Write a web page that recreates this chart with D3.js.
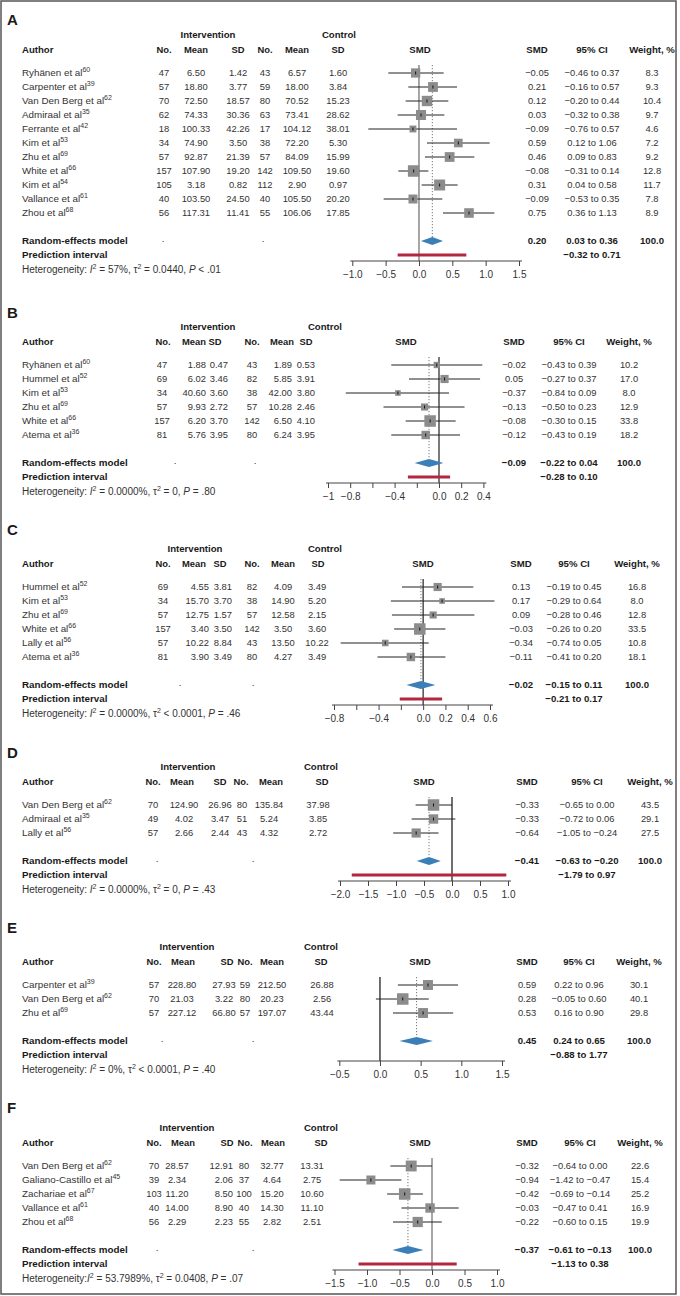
<!DOCTYPE html>
<html>
<head>
<meta charset="utf-8">
<script src="https://cdn.jsdelivr.net/npm/d3@7"></script>
<style>
  body { margin: 0; background: #fff; }
  text { font-family: "Liberation Sans", Arial, Helvetica, sans-serif; }
</style>
</head>
<body>
<script>
// study rows: author, ref, n1, mean1, sd1, n2, mean2, sd2, smd, lower, upper, weight %
var studiesA = [
  ["Ryhänen et al", 60, 47, 6.50, 1.42, 43, 6.57, 1.60, -0.05, -0.46, 0.37, 8.3],
  ["Carpenter et al", 39, 57, 18.80, 3.77, 59, 18.00, 3.84, 0.21, -0.16, 0.57, 9.3],
  ["Van Den Berg et al", 62, 70, 72.50, 18.57, 80, 70.52, 15.23, 0.12, -0.20, 0.44, 10.4],
  ["Admiraal et al", 35, 62, 74.33, 30.36, 63, 73.41, 28.62, 0.03, -0.32, 0.38, 9.7],
  ["Ferrante et al", 42, 18, 100.33, 42.26, 17, 104.12, 38.01, -0.09, -0.76, 0.57, 4.6],
  ["Kim et al", 53, 34, 74.90, 3.50, 38, 72.20, 5.30, 0.59, 0.12, 1.06, 7.2],
  ["Zhu et al", 69, 57, 92.87, 21.39, 57, 84.09, 15.99, 0.46, 0.09, 0.83, 9.2],
  ["White et al", 66, 157, 107.90, 19.20, 142, 109.50, 19.60, -0.08, -0.31, 0.14, 12.8],
  ["Kim et al", 54, 105, 3.18, 0.82, 112, 2.90, 0.97, 0.31, 0.04, 0.58, 11.7],
  ["Vallance et al", 61, 40, 103.50, 24.50, 40, 105.50, 20.20, -0.09, -0.53, 0.35, 7.8],
  ["Zhou et al", 68, 56, 117.31, 11.41, 55, 106.06, 17.85, 0.75, 0.36, 1.13, 8.9]
];
var studiesB = [
  ["Ryhänen et al", 60, 47, 1.88, 0.47, 43, 1.89, 0.53, -0.02, -0.43, 0.39, 10.2],
  ["Hummel et al", 52, 69, 6.02, 3.46, 82, 5.85, 3.91, 0.05, -0.27, 0.37, 17.0],
  ["Kim et al", 53, 34, 40.60, 3.60, 38, 42.00, 3.80, -0.37, -0.84, 0.09, 8.0],
  ["Zhu et al", 69, 57, 9.93, 2.72, 57, 10.28, 2.46, -0.13, -0.50, 0.23, 12.9],
  ["White et al", 66, 157, 6.20, 3.70, 142, 6.50, 4.10, -0.08, -0.30, 0.15, 33.8],
  ["Atema et al", 36, 81, 5.76, 3.95, 80, 6.24, 3.95, -0.12, -0.43, 0.19, 18.2]
];
var studiesC = [
  ["Hummel et al", 52, 69, 4.55, 3.81, 82, 4.09, 3.49, 0.13, -0.19, 0.45, 16.8],
  ["Kim et al", 53, 34, 15.70, 3.70, 38, 14.90, 5.20, 0.17, -0.29, 0.64, 8.0],
  ["Zhu et al", 69, 57, 12.75, 1.57, 57, 12.58, 2.15, 0.09, -0.28, 0.46, 12.8],
  ["White et al", 66, 157, 3.40, 3.50, 142, 3.50, 3.60, -0.03, -0.26, 0.20, 33.5],
  ["Lally et al", 56, 57, 10.22, 8.84, 43, 13.50, 10.22, -0.34, -0.74, 0.05, 10.8],
  ["Atema et al", 36, 81, 3.90, 3.49, 80, 4.27, 3.49, -0.11, -0.41, 0.20, 18.1]
];
var studiesD = [
  ["Van Den Berg et al", 62, 70, 124.90, 26.96, 80, 135.84, 37.98, -0.33, -0.65, 0.00, 43.5],
  ["Admiraal et al", 35, 49, 4.02, 3.47, 51, 5.24, 3.85, -0.33, -0.72, 0.06, 29.1],
  ["Lally et al", 56, 57, 2.66, 2.44, 43, 4.32, 2.72, -0.64, -1.05, -0.24, 27.5]
];
var studiesE = [
  ["Carpenter et al", 39, 57, 228.80, 27.93, 59, 212.50, 26.88, 0.59, 0.22, 0.96, 30.1],
  ["Van Den Berg et al", 62, 70, 21.03, 3.22, 80, 20.23, 2.56, 0.28, -0.05, 0.60, 40.1],
  ["Zhu et al", 69, 57, 227.12, 66.80, 57, 197.07, 43.44, 0.53, 0.16, 0.90, 29.8]
];
var studiesF = [
  ["Van Den Berg et al", 62, 70, 28.57, 12.91, 80, 32.77, 13.31, -0.32, -0.64, 0.00, 22.6],
  ["Galiano-Castillo et al", 45, 39, 2.34, 2.06, 37, 4.64, 2.75, -0.94, -1.42, -0.47, 15.4],
  ["Zachariae et al", 67, 103, 11.20, 8.50, 100, 15.20, 10.60, -0.42, -0.69, -0.14, 25.2],
  ["Vallance et al", 61, 40, 14.00, 8.90, 40, 14.30, 11.10, -0.03, -0.47, 0.41, 16.9],
  ["Zhou et al", 68, 56, 2.29, 2.23, 55, 2.82, 2.51, -0.22, -0.60, 0.15, 19.9]
];

// random-effects estimate, lower, upper, prediction lower, prediction upper
var summaryA = [0.20, 0.03, 0.36, -0.32, 0.71];
var summaryB = [-0.09, -0.22, 0.04, -0.28, 0.10];
var summaryC = [-0.02, -0.15, 0.11, -0.21, 0.17];
var summaryD = [-0.41, -0.63, -0.20, -1.79, 0.97];
var summaryE = [0.45, 0.24, 0.65, -0.88, 1.77];
var summaryF = [-0.37, -0.61, -0.13, -1.13, 0.38];

// heterogeneity: I2, tau2, P
var hetA = ["57%", "= 0.0440", "< .01"];
var hetB = ["0.0000%", "= 0", "= .80"];
var hetC = ["0.0000%", "< 0.0001", "= .46"];
var hetD = ["0.0000%", "= 0", "= .43"];
var hetE = ["0%", "< 0.0001", "= .40"];
var hetF = ["53.7989%", "= 0.0408", "= .07"];

var ticksA = [-1, -0.5, 0, 0.5, 1, 1.5];
var tickLabelsA = ["−1.0", "−0.5", "0.0", "0.5", "1.0", "1.5"];
var ticksB = [-1, -0.8, -0.6, -0.4, -0.2, 0, 0.2, 0.4];
var tickLabelsB = ["−1", "−0.8", "", "−0.4", "", "0.0", "0.2", "0.4"];
var ticksC = [-0.8, -0.6, -0.4, -0.2, 0, 0.2, 0.4, 0.6];
var tickLabelsC = ["−0.8", "", "−0.4", "", "0.0", "0.2", "0.4", "0.6"];
var ticksD = [-2, -1.5, -1, -0.5, 0, 0.5, 1];
var tickLabelsD = ["−2.0", "−1.5", "−1.0", "−0.5", "0.0", "0.5", "1.0"];
var ticksE = [-0.5, 0, 0.5, 1, 1.5];
var tickLabelsE = ["−0.5", "0.0", "0.5", "1.0", "1.5"];
var ticksF = [-1.5, -1, -0.5, 0, 0.5, 1];
var tickLabelsF = ["−1.5", "−1.0", "−0.5", "0.0", "0.5", "1.0"];

// layout per panel; a column is a centre x, or [x, anchor]
var panels = [
  {id: "A", rows: studiesA, sum: summaryA, het: hetA, ticks: ticksA, tickLabels: tickLabelsA,
   labelY: 20, row0: 73, range: [352.3, 519], zero: "#777", pi: true, smdHead: 420,
   heads: [164, 196, 238, 265, 297, 338], dots: [163, 263],
   cols: {n1: 164, m1: 196, sd1: 238, n2: 265, m2: 297, sd2: 338, interv: 208, control: 339, smd: 537, ci: 592, wt: 652}},
  {id: "B", rows: studiesB, sum: summaryB, het: hetB, ticks: ticksB, tickLabels: tickLabelsB,
   labelY: 313, row0: 365, range: [328, 483.4], zero: "#333", pi: true, smdHead: 406,
   heads: [163, 194, 215, 252, 282, 306], dots: [175, 255],
   cols: {n1: 162, m1: [206, "end"], sd1: [228, "end"], n2: 252, m2: [292, "end"], sd2: [315, "end"], interv: 208, control: 325, smd: 514, ci: 569, wt: 629}},
  {id: "C", rows: studiesC, sum: summaryC, het: hetC, ticks: ticksC, tickLabels: tickLabelsC,
   labelY: 530, row0: 587, range: [334, 490], zero: "#333", pi: true, smdHead: 423,
   heads: [163, 194, 220, 252, 283, 318], dots: [180, 253],
   cols: {n1: 163, m1: [209, "end"], sd1: [232, "end"], n2: 252, m2: 283, sd2: 317, interv: 195, control: 325, smd: 521, ci: 574, wt: 637}},
  {id: "D", rows: studiesD, sum: summaryD, het: hetD, ticks: ticksD, tickLabels: tickLabelsD,
   labelY: 753, row0: 805, range: [340, 508], zero: "#222", pi: true, smdHead: 424,
   heads: [153, 182, 220, 241, 271, 322], dots: [157, 253],
   cols: {n1: 153, m1: 184, sd1: 220, n2: 242, m2: 269, sd2: 318, interv: 188, control: 321, smd: 527, ci: 587, wt: 650}},
  {id: "E", rows: studiesE, sum: summaryE, het: hetE, ticks: ticksE, tickLabels: tickLabelsE,
   labelY: 928, row0: 985, range: [339.3, 502], zero: "#222", pi: false, smdHead: 420,
   heads: [154, 183, 227, 245, 272, 321], dots: [162, 253],
   cols: {n1: 154, m1: 182, sd1: 224, n2: 245, m2: 272, sd2: 322, interv: 187, control: 321, smd: 527, ci: 579, wt: 639}},
  {id: "F", rows: studiesF, sum: summaryF, het: hetF, ticks: ticksF, tickLabels: tickLabelsF,
   labelY: 1108, row0: 1166, range: [334.5, 497], zero: "#777", pi: true, smdHead: 420,
   heads: [154, 183, 227, 245, 273, 321], dots: [157, 253],
   cols: {n1: 154, m1: 177, sd1: [233, "end"], n2: 244, m2: 272, sd2: 312, interv: 187, control: 321, smd: 527, ci: 580, wt: 640}}
];

var width = 680, height = 1296, step = 14;
var fmt2 = d3.format(".2f"), fmt1 = d3.format(".1f");

var svg = d3.select("body").append("svg")
    .attr("width", width)
    .attr("height", height);

svg.append("rect")
    .attr("x", 1).attr("y", 1)
    .attr("width", 675).attr("height", 1293)
    .attr("fill", "none")
    .attr("stroke", "#555")
    .attr("stroke-width", 1.5);

var txt = function (g, x, y, s, anchor, bold, size) {
  return g.append("text")
      .attr("x", x).attr("y", y).attr("dy", "0.35em")
      .attr("text-anchor", anchor || "middle")
      .attr("fill", bold ? "#1a1a1a" : "#333")
      .style("font-size", (size || 9.8) + "px")
      .style("font-weight", bold ? "bold" : "normal")
      .text(s);
};

// number column text, with its own anchor if given
var cell = function (g, col, s) {
  if (Array.isArray(col)) {
    return txt(g, col[0], 0, s, col[1], false, 9.4);
  }
  return txt(g, col, 0, s, "middle", false, 9.4);
};

function drawPanel(p) {
  var g = svg.append("g").attr("class", "panel-" + p.id);
  var c = p.cols;
  var y0 = p.row0;
  var reY = y0 + (p.rows.length - 1) * step + 28;
  var piY = reY + 14, hetY = reY + 28, axisY = reY + 20;
  var x = d3.scaleLinear().domain(d3.extent(p.ticks)).range(p.range);
  var size = d3.scaleSqrt().domain([0, d3.max(p.rows, function (r) { return r[11]; })]).range([0, 11.5]);

  txt(g, 7, p.labelY, p.id, "start", true, 15);

  // headers
  txt(g, c.interv, y0 - 38, "Intervention", "middle", true, 9.6);
  txt(g, c.control, y0 - 38, "Control", "middle", true, 9.6);
  txt(g, 22, y0 - 23, "Author", "start", true, 9.6);
  ["No.", "Mean", "SD", "No.", "Mean", "SD"].forEach(function (h, i) {
    txt(g, p.heads[i], y0 - 23, h, "middle", true, 9.4);
  });
  [["SMD", p.smdHead], ["SMD", c.smd], ["95% CI", c.ci], ["Weight, %", c.wt]].forEach(function (h) {
    txt(g, h[1], y0 - 23, h[0], "middle", true, 9.6);
  });

  // reference lines behind the squares
  g.append("line")
      .attr("x1", x(0)).attr("x2", x(0))
      .attr("y1", y0 - 8).attr("y2", axisY)
      .attr("stroke", p.zero).attr("stroke-width", 1.3);
  g.append("line")
      .attr("x1", x(p.sum[0])).attr("x2", x(p.sum[0]))
      .attr("y1", y0 - 8).attr("y2", reY - 4)
      .attr("stroke", "#777").attr("stroke-width", 1)
      .attr("stroke-dasharray", "1.2,1.8");

  var rowG = g.selectAll("g.study")
    .data(p.rows)
    .enter().append("g")
      .attr("class", "study")
      .attr("transform", function (d, i) { return "translate(0," + (y0 + i * step) + ")"; });

  rowG.each(function (d) {
    var r = d3.select(this);
    var a = txt(r, 22, 0, d[0], "start");
    a.append("tspan").attr("dy", "-4").style("font-size", "7px").text(d[1]);
    cell(r, c.n1, d[2]);
    cell(r, c.m1, fmt2(d[3]));
    cell(r, c.sd1, fmt2(d[4]));
    cell(r, c.n2, d[5]);
    cell(r, c.m2, fmt2(d[6]));
    cell(r, c.sd2, fmt2(d[7]));
    cell(r, c.smd, fmt2(d[8]));
    cell(r, c.ci, fmt2(d[9]) + " to " + fmt2(d[10]));
    cell(r, c.wt, fmt1(d[11]));

    r.append("line")
        .attr("x1", x(d[9])).attr("x2", x(d[10]))
        .attr("y1", 0).attr("y2", 0)
        .attr("stroke", "#222").attr("stroke-width", 1);
    var s = size(d[11]);
    r.append("rect")
        .attr("x", x(d[8]) - s / 2).attr("y", -s / 2)
        .attr("width", s).attr("height", s)
        .attr("fill", "#8c8c8c");
    r.append("line")
        .attr("x1", x(d[8])).attr("x2", x(d[8]))
        .attr("y1", -1.5).attr("y2", 1.5)
        .attr("stroke", "#111").attr("stroke-width", 1);
  });

  // random-effects row
  txt(g, 22, reY, "Random-effects model", "start", true);
  txt(g, p.dots[0], reY - 2, ".", "middle", false);
  txt(g, p.dots[1], reY - 2, ".", "middle", false);
  txt(g, c.smd, reY, fmt2(p.sum[0]), "middle", true, 9.6);
  txt(g, c.ci, reY, fmt2(p.sum[1]) + " to " + fmt2(p.sum[2]), "middle", true, 9.6);
  txt(g, c.wt, reY, fmt1(100), "middle", true, 9.6);
  g.append("path")
      .attr("d", d3.line()([[x(p.sum[1]), reY], [x(p.sum[0]), reY - 4], [x(p.sum[2]), reY], [x(p.sum[0]), reY + 4]]) + "Z")
      .attr("fill", "#3a7fb8");

  // prediction interval
  txt(g, 22, piY, "Prediction interval", "start", true);
  txt(g, c.ci, piY, fmt2(p.sum[3]) + " to " + fmt2(p.sum[4]), "middle", true, 9.6);
  if (p.pi) {
    g.append("line")
        .attr("x1", x(p.sum[3])).attr("x2", x(p.sum[4]))
        .attr("y1", piY).attr("y2", piY)
        .attr("stroke", "#b3263f").attr("stroke-width", 3);
  }

  // heterogeneity
  var h = txt(g, 22, hetY, p.id === "F" ? "Heterogeneity:" : "Heterogeneity: ", "start", false, 10);
  h.append("tspan").style("font-style", "italic").text("I");
  h.append("tspan").attr("dy", "-4").style("font-size", "7px").text("2");
  h.append("tspan").attr("dy", "4").text(" = " + p.het[0] + ", τ");
  h.append("tspan").attr("dy", "-4").style("font-size", "7px").text("2");
  h.append("tspan").attr("dy", "4").text(" " + p.het[1] + ", ");
  h.append("tspan").style("font-style", "italic").text("P");
  h.append("tspan").text(" " + p.het[2]);

  // axis
  var ax = g.append("g")
      .attr("transform", "translate(0," + axisY + ")")
      .call(d3.axisBottom(x)
        .tickValues(p.ticks)
        .tickFormat(function (d, i) { return p.tickLabels[i]; })
        .tickSize(5)
        .tickSizeOuter(0));
  ax.select(".domain").remove();
  ax.append("line")
      .attr("x1", p.range[0] - 2).attr("x2", p.range[1] + 3)
      .attr("stroke", "#444");
  ax.selectAll(".tick line").attr("stroke", "#444");
  ax.selectAll(".tick text")
      .attr("fill", "#333")
      .style("font-size", "10px")
      .style("font-family", "'Liberation Sans', Arial, sans-serif")
      .attr("y", 10);
}

panels.forEach(drawPanel);
</script>
</body>
</html>
